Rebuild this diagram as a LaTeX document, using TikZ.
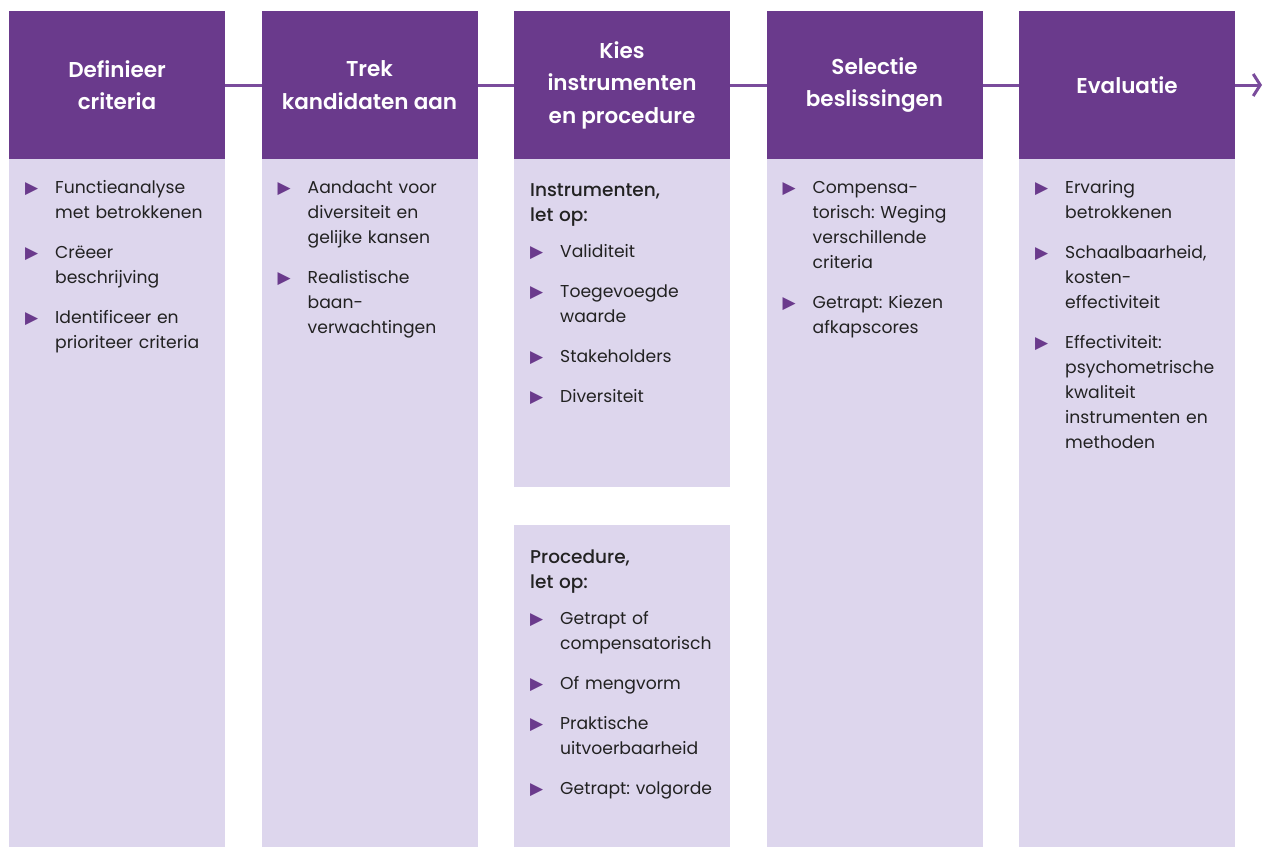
\documentclass[tikz,border=0pt]{standalone}
\usepackage{fontspec}
\setmainfont{Poppins}
\newfontfamily\medium{Poppins Medium}
\newfontfamily\semibold{Poppins SemiBold}
\newfontfamily\symb{DejaVu Sans}
\usepackage{tikz}
\usetikzlibrary{positioning, arrows.meta}
\definecolor{paars}{HTML}{6A3A8C}
\definecolor{lila}{HTML}{DDD6ED}
\definecolor{lijnkleur}{HTML}{7A4C9C}
\definecolor{tekst}{HTML}{222222}

% bullet item with hanging indent (use \newline inside, not \\)
\newcommand{\punt}[1]{\par\noindent\hangindent=30pt\hangafter=1%
  \makebox[30pt][l]{\raisebox{-0.5pt}{\textcolor{paars}{\fontsize{17}{17}\selectfont\symb ▶}}}#1\par}
% small heading inside a list
\newcommand{\kopje}[1]{\par\noindent{\medium\fontsize{18.5}{26}\selectfont #1}\par\vspace{-4pt}}

\begin{document}
\begin{tikzpicture}[
    x=1pt, y=-1pt,
    kop/.style={rectangle, fill=paars, minimum width=216pt, minimum height=148pt,
                inner sep=0pt, outer sep=0pt, text=white,
                font=\semibold\fontsize{21.5}{32.5}\selectfont, align=center},
    vak/.style={rectangle, fill=lila, minimum width=216pt, minimum height=688pt,
                inner sep=0pt, outer sep=0pt},
    lijst/.style={text width=195pt, inner sep=0pt, align=left, text=tekst,
                  font=\fontsize{17.2}{25}\selectfont\frenchspacing\setlength{\parskip}{15pt}},
    lijn/.style={line width=3pt, color=lijnkleur}
]
\useasboundingbox (0,0) rectangle (1264,847);

% Headers
\node[kop] (kop1) at (117,85) {Definieer\\criteria};
\node[kop, right=36.5pt of kop1] (kop2) {Trek\\kandidaten aan};
\node[kop, right=36.5pt of kop2] (kop3) {Kies\\instrumenten\\en procedure};
\node[kop, right=36.5pt of kop3] (kop4) {Selectie\\beslissingen};
\node[kop, right=36.5pt of kop4] (kop5) {Evaluatie};

% Connectors
\draw[lijn] (kop1) -- (kop2);
\draw[lijn] (kop2) -- (kop3);
\draw[lijn] (kop3) -- (kop4);
\draw[lijn] (kop4) -- (kop5);
\coordinate (eind) at (1262,85);
\draw[lijn, -{Straight Barb[length=7pt, width=22pt]}] (kop5) -- (eind);

% Columns
\node[vak, below=0pt of kop1] (vak1) {};
\node[vak, below=0pt of kop2] (vak2) {};
\node[vak, minimum height=328pt, below=0pt of kop3] (vak3a) {};
\node[vak, minimum height=322pt, below=38pt of vak3a] (vak3b) {};
\node[vak, below=0pt of kop4] (vak4) {};
\node[vak, below=0pt of kop5] (vak5) {};

% Lists
\node[lijst, below right=-6pt and 16pt of vak1.north west] (lijst1) {
    \punt{Functieanalyse\newline met betrokkenen}
    \punt{Crëeer\newline beschrijving}
    \punt{Identificeer en\newline prioriteer criteria}
};
\node[lijst, below right=-6pt and 16pt of vak2.north west] (lijst2) {
    \punt{Aandacht voor\newline diversiteit en\newline gelijke kansen}
    \punt{Realistische\newline baan-\newline verwachtingen}
};
\node[lijst, below right=-3pt and 16pt of vak3a.north west] (lijst3a) {
    \kopje{Instrumenten,\newline let op:}
    \punt{Validiteit}
    \punt{Toegevoegde\newline waarde}
    \punt{Stakeholders}
    \punt{Diversiteit}
};
\node[lijst, below right=-2pt and 16pt of vak3b.north west] (lijst3b) {
    \kopje{Procedure,\newline let op:}
    \punt{Getrapt of\newline compensatorisch}
    \punt{Of mengvorm}
    \punt{Praktische\newline uitvoerbaarheid}
    \punt{Getrapt: volgorde}
};
\node[lijst, below right=-6pt and 16pt of vak4.north west] (lijst4) {
    \punt{Compensa-\newline torisch: Weging\newline verschillende\newline criteria}
    \punt{Getrapt: Kiezen\newline afkapscores}
};
\node[lijst, below right=-6pt and 16pt of vak5.north west] (lijst5) {
    \punt{Ervaring\newline betrokkenen}
    \punt{Schaalbaarheid,\newline kosten-\newline effectiviteit}
    \punt{Effectiviteit:\newline psychometrische\newline kwaliteit\newline instrumenten en\newline methoden}
};

\end{tikzpicture}
\end{document}
